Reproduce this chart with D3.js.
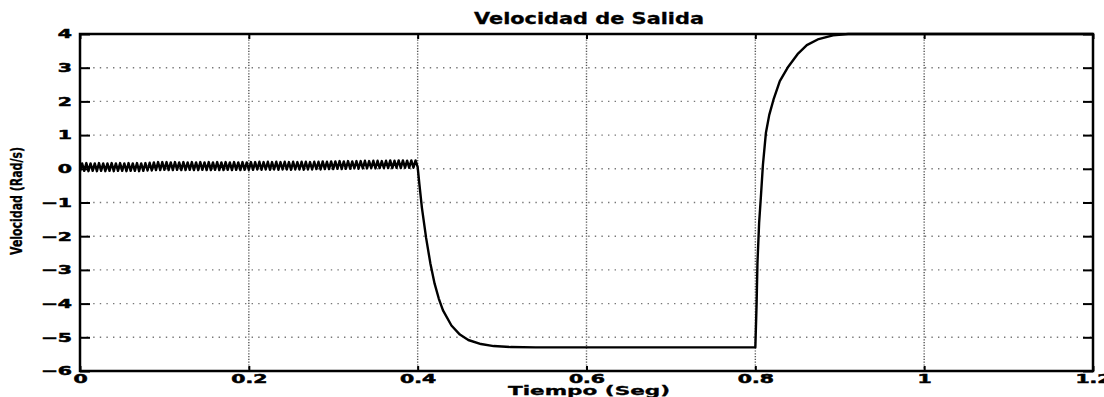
<!DOCTYPE html>
<html>
<head>
<meta charset="utf-8">
<script src="https://cdn.jsdelivr.net/npm/d3@7"></script>
<style>
  body { margin: 0; background: #fff; }
  svg { display: block; }
  .grid-h { stroke: #777; stroke-width: 1.4; stroke-dasharray: 1.4,5.2; }
  .grid-v { stroke: #555; stroke-width: 1.4; stroke-dasharray: 1.2,1.6; }
  .tick text { font-family: "DejaVu Sans", sans-serif; font-weight: bold; font-size: 12px; fill: #000; stroke: #000; stroke-width: 0.5; }
  .tick line { stroke: #000; stroke-width: 2; }
  .lbl { font-family: "DejaVu Sans", sans-serif; font-weight: bold; fill: #000; stroke: #000; stroke-width: 0.3; }
</style>
</head>
<body>
<script>
// tick values and labels
const xTicks = [0, 0.2, 0.4, 0.6, 0.8, 1, 1.2];
const xTickLabels = ["0", "0.2", "0.4", "0.6", "0.8", "1", "1.2"];
const yTicks = [-6, -5, -4, -3, -2, -1, 0, 1, 2, 3, 4];
const yTickLabels = ["\u22126", "\u22125", "\u22124", "\u22123", "\u22122", "\u22121", "0", "1", "2", "3", "4"];

// ripple before 0.4 s
const rippleT = [
  0,.0025,.005,.0075,.01,.0125,.015,.0175,.02,.0225,
  .025,.0275,.03,.0325,.035,.0375,.04,.0425,.045,.0475,
  .05,.0525,.055,.0575,.06,.0625,.065,.0675,.07,.0725,
  .075,.0775,.08,.0825,.085,.0875,.09,.0925,.095,.0975,
  .1,.1025,.105,.1075,.11,.1125,.115,.1175,.12,.1225,
  .125,.1275,.13,.1325,.135,.1375,.14,.1425,.145,.1475,
  .15,.1525,.155,.1575,.16,.1625,.165,.1675,.17,.1725,
  .175,.1775,.18,.1825,.185,.1875,.19,.1925,.195,.1975,
  .2,.2025,.205,.2075,.21,.2125,.215,.2175,.22,.2225,
  .225,.2275,.23,.2325,.235,.2375,.24,.2425,.245,.2475,
  .25,.2525,.255,.2575,.26,.2625,.265,.2675,.27,.2725,
  .275,.2775,.28,.2825,.285,.2875,.29,.2925,.295,.2975,
  .3,.3025,.305,.3075,.31,.3125,.315,.3175,.32,.3225,
  .325,.3275,.33,.3325,.335,.3375,.34,.3425,.345,.3475,
  .35,.3525,.355,.3575,.36,.3625,.365,.3675,.37,.3725,
  .375,.3775,.38,.3825,.385,.3875,.39,.3925,.395,.3975,
  .4
];
const rippleV = [
  -0.07,0.16,-0.06,0.17,-0.07,0.16,-0.06,0.16,-0.07,0.17,
  -0.06,0.16,-0.07,0.16,-0.06,0.17,-0.07,0.16,-0.06,0.17,
  -0.06,0.16,-0.07,0.17,-0.06,0.16,-0.06,0.17,-0.07,0.16,
  -0.06,0.17,-0.05,0.18,-0.05,0.19,-0.04,0.20,-0.04,0.20,
  -0.03,
  0.20,-0.04,0.19,-0.04,0.20,-0.03,0.19,-0.04,0.20,-0.04,
  0.19,-0.03,0.20,-0.04,0.19,-0.04,0.20,-0.03,0.19,-0.04,
  0.20,-0.04,0.19,-0.03,0.20,-0.04,0.19,-0.04,0.20,-0.03,
  0.19,-0.04,0.20,-0.03,0.19,-0.04,0.20,-0.03,0.19,-0.03,
  0.20,-0.03,0.20,-0.02,0.21,-0.03,0.20,-0.02,0.21,-0.03,
  0.20,-0.02,0.21,-0.03,0.20,-0.02,0.21,-0.02,0.20,-0.03,
  0.21,-0.02,0.20,-0.02,0.21,-0.03,0.21,-0.02,0.20,-0.02,
  0.21,-0.01,0.21,-0.02,0.22,-0.01,0.21,-0.01,0.22,-0.01,
  0.22,0.00,0.23,-0.01,0.22,0.00,0.23,0.00,0.22,0.01,
  0.23,0.00,0.23,0.01,0.24,0.01,0.23,0.02,0.24,0.01,
  0.24,0.02,0.23,0.02,0.24,0.02,0.25,0.02,0.24,0.03,
  0.25,0.02,0.25,0.03,0.24,0.03,0.25,0.03,0.25,0.05
];

// drop after 0.4 s
const fallT = [.402, .405, .41, .415, .42, .425, .43, .44, .45, .46, .475, .49, .51, .54, .8];
const fallV = [-0.45, -1.15, -2.05, -2.8, -3.4, -3.85, -4.2, -4.65, -4.92, -5.08, -5.2, -5.26, -5.29, -5.3, -5.3];

// rise after 0.8 s
const riseT = [.8015, .8025, .8045, .8065, .809, .8125, .8165, .8215, .829, .839, .85, .861, .875, .892, .91, 1.2];
const riseV = [-4.0, -2.8, -1.6, -0.86, 0.12, 1.06, 1.6, 2.05, 2.6, 3.03, 3.4, 3.67, 3.85, 3.96, 4.0, 4.0];

const width = 1104, height = 397;
const mLeft = 80, mRight = 1093, mTop = 34, mBottom = 371;
const sx = 1.7; // wide tick lettering

const x = d3.scaleLinear().domain([0, 1.2]).range([mLeft, mRight]);
const y = d3.scaleLinear().domain([-6, 4]).range([mBottom, mTop]);

const svg = d3.select("body").append("svg")
    .attr("width", width)
    .attr("height", height);

// grid
svg.append("g").selectAll("line")
    .data(yTicks.slice(1, -1))
    .join("line")
    .attr("class", "grid-h")
    .attr("x1", mLeft).attr("x2", mRight)
    .attr("y1", d => y(d)).attr("y2", d => y(d));
svg.append("g").selectAll("line")
    .data(xTicks.slice(1, -1))
    .join("line")
    .attr("class", "grid-v")
    .attr("x1", d => x(d)).attr("x2", d => x(d))
    .attr("y1", mTop).attr("y2", mBottom);

// axes with inward ticks
const xfmt = d => xTickLabels[xTicks.indexOf(d)];
const yfmt = d => yTickLabels[yTicks.indexOf(d)];

const gx = svg.append("g")
    .attr("transform", `translate(0,${mBottom})`)
    .call(d3.axisBottom(x).tickValues(xTicks).tickFormat(xfmt).tickSize(-5).tickPadding(3));
gx.selectAll("text").attr("transform", `scale(${sx},1)`);

svg.append("g")
    .attr("transform", `translate(0,${mTop})`)
    .call(d3.axisTop(x).tickValues(xTicks).tickFormat("").tickSize(-5));

const gy = svg.append("g")
    .attr("transform", `translate(${mLeft},0)`)
    .call(d3.axisLeft(y).tickValues(yTicks).tickFormat(yfmt).tickSize(-10).tickPadding(8));
gy.selectAll("text")
    .attr("x", -8 / sx)
    .attr("transform", `scale(${sx},1)`);

svg.append("g")
    .attr("transform", `translate(${mRight},0)`)
    .call(d3.axisRight(y).tickValues(yTicks).tickFormat("").tickSize(-10));

svg.selectAll(".domain").remove();

// frame
svg.append("rect")
    .attr("x", mLeft).attr("y", mTop)
    .attr("width", mRight - mLeft).attr("height", mBottom - mTop)
    .attr("fill", "none")
    .attr("stroke", "#000")
    .attr("stroke-width", 2.5);

// curve
const pts = [];
rippleT.forEach((t, i) => pts.push([t, rippleV[i]]));
fallT.forEach((t, i) => pts.push([t, fallV[i]]));
riseT.forEach((t, i) => pts.push([t, riseV[i]]));

const line = d3.line()
    .x(d => x(d[0]))
    .y(d => y(d[1]));

svg.append("path")
    .datum(pts)
    .attr("fill", "none")
    .attr("stroke", "#000")
    .attr("stroke-width", 2.4)
    .attr("stroke-linejoin", "round")
    .attr("d", line);

// labels
svg.append("text")
    .attr("class", "lbl")
    .attr("x", 589).attr("y", 24)
    .attr("text-anchor", "middle")
    .attr("font-size", 15)
    .attr("textLength", 230)
    .attr("lengthAdjust", "spacingAndGlyphs")
    .text("Velocidad de Salida");

svg.append("text")
    .attr("class", "lbl")
    .attr("x", 589).attr("y", 395)
    .attr("text-anchor", "middle")
    .attr("font-size", 12)
    .attr("textLength", 162)
    .attr("lengthAdjust", "spacingAndGlyphs")
    .text("Tiempo (Seg)");

svg.append("text")
    .attr("class", "lbl")
    .attr("transform", "translate(22,201) rotate(-90)")
    .attr("text-anchor", "middle")
    .attr("font-size", 16)
    .attr("textLength", 108)
    .attr("lengthAdjust", "spacingAndGlyphs")
    .text("Velocidad (Rad/s)");
</script>
</body>
</html>
